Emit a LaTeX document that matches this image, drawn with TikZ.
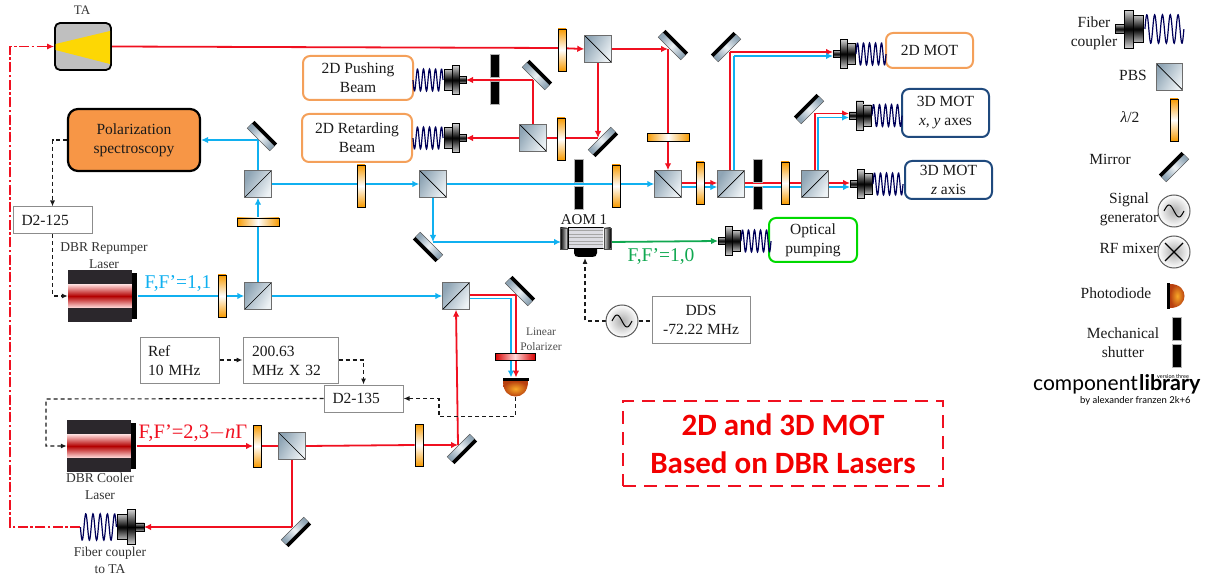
\documentclass[tikz,border=0pt]{standalone}
\usepackage{fontspec}
\setmainfont{Liberation Serif}
\newfontfamily\titlef{Carlito}
\newfontfamily\logof{Lato}
\usetikzlibrary{arrows.meta,calc,shapes.geometric}
\pgfdeclarelayer{beams}
\pgfsetlayers{beams,main}
\definecolor{beamred}{HTML}{F01020}
\definecolor{beamblue}{HTML}{10B0F0}
\definecolor{beamgreen}{HTML}{10A850}
\definecolor{orbox}{HTML}{F4A05A}
\definecolor{navybox}{HTML}{1F497D}
\definecolor{hwporange}{HTML}{F79A00}
\definecolor{glassdark}{HTML}{8FA5B5}
\definecolor{glasslight}{HTML}{EDF2F5}
\definecolor{ink}{HTML}{1A1A1A}
\definecolor{laserbody}{HTML}{2B272C}
\definecolor{domeout}{HTML}{B8400F}
\definecolor{domein}{HTML}{F8A828}
\tikzset{
  lowtext/.style={execute at begin node={\rule{0pt}{#1}}},
  pbsbase/.style={minimum size=26.5pt,inner sep=0pt,draw=gray!85!black,line width=.9pt,left color=glassdark,right color=glasslight,shading angle=60},
  pbsa/.style={pbsbase,path picture={\draw[black,line width=.7pt] (path picture bounding box.south west) -- (path picture bounding box.north east);}},
  pbsb/.style={pbsbase,path picture={\draw[black,line width=.7pt] (path picture bounding box.north west) -- (path picture bounding box.south east);}},
  hv/.style={minimum width=8pt,minimum height=42pt,inner sep=0pt,draw=black,line width=.9pt,top color=hwporange,bottom color=hwporange,middle color=white},
  hh/.style={minimum width=42pt,minimum height=8pt,inner sep=0pt,draw=black,line width=.9pt,left color=hwporange,right color=hwporange,middle color=white},
  shut/.style={minimum width=9pt,minimum height=23pt,inner sep=0pt,fill=black,draw=gray!60,line width=.3pt},
  gbox/.style={draw=gray!90,fill=white,line width=1pt,inner sep=0pt,font=\fontsize{15.5}{19}\selectfont,text=ink},
  rbox/.style={draw=orbox,fill=white,line width=2pt,rounded corners=7pt,inner sep=0pt,align=center,font=\fontsize{15.5}{19}\selectfont,text=ink},
  txt/.style={inner sep=0pt,align=center,font=\fontsize{15.5}{19}\selectfont,text=ink},
  smalltxt/.style={inner sep=0pt,align=center,font=\fontsize{13.5}{17}\selectfont,text=black!80},
  redb/.style={draw=beamred,line width=1.8pt},
  blueb/.style={draw=beamblue,line width=1.8pt},
  greenb/.style={draw=beamgreen,line width=1.8pt},
  tip/.style={-{Latex[length=7pt,width=6.5pt]}},
  ctrl/.style={draw=ink,line width=1.1pt,dash pattern=on 4pt off 3pt,-{Latex[length=6pt,width=5pt]}},
  ctrlplain/.style={draw=ink,line width=1.1pt,dash pattern=on 4pt off 3pt},
  sigc/.style={circle,minimum size=32pt,inner sep=0pt,draw=black!65,line width=1pt,inner color=gray!65,outer color=white},
}
\newcommand\mirrorel[4]{%
  \begin{scope}[shift={(#2,#3)},rotate=#4]
    \node[transform shape,minimum width=32pt,minimum height=7pt,inner sep=0pt,draw=gray!70!black,line width=.5pt,left color=glassdark,right color=glassdark,middle color=glasslight,shading angle=\the\numexpr90+#4\relax] (#1) at (0,1.5) {};
    \node[transform shape,minimum width=32pt,minimum height=3.5pt,inner sep=0pt,fill=black] (#1b) at (0,-3.6) {};
  \end{scope}}
\newcommand\fiberel[5]{%
  \coordinate (#1) at (#2,#3);
  \begin{scope}[shift={(#2,#3)},xscale=#5*#4,yscale=#4]
    \fill[draw=black,line width=.3pt,top color=gray!60,bottom color=gray!60,middle color=black] (0,-3.5) rectangle (7,3.5);
    \fill[draw=black,line width=.3pt,top color=gray!35,bottom color=gray!35,middle color=black] (7,-14.5) rectangle (14,14.5);
    \fill[draw=black,line width=.3pt,top color=gray!50,bottom color=gray!50,middle color=black] (14,-10.5) rectangle (22,10.5);
    \draw[draw=blue!35!black,line width=1.2pt] plot[domain=0:5,samples=90] ({23+\x*6},{-11*sin(360*\x)});
    \coordinate (#1e) at (53,0);
  \end{scope}}
\newcommand\shutterel[3]{%
  \node[shut] (#1a) at (#2,#3-13.5) {};
  \node[shut] (#1b) at (#2,#3+13.5) {};}
\newcommand\laserel[4]{%
  \node[minimum width=64pt,minimum height=52pt,inner sep=0pt,fill=laserbody] (#1) at (#2,#3) {};
  \node[minimum width=64pt,minimum height=#4pt,inner sep=0pt,top color=red!15,bottom color=red!15,middle color=red!70!black] (#1band) at (#2,#3) {};
  \node[minimum width=5pt,minimum height=46pt,inner sep=0pt,fill=black,anchor=west] (#1out) at (#1.east) {};}
\newcommand\sinewave[1]{\begin{scope}[shift={(#1)}]\draw[black,line width=1pt] plot[smooth,domain=-10:10,samples=30] (\x,{6*sin(18*\x)});\end{scope}}
\begin{document}
\begin{tikzpicture}[x=1pt,y=-1pt]
\useasboundingbox (0,0) rectangle (1210,577);
% ---------- TA ----------
\node[minimum width=56pt,minimum height=47pt,inner sep=0pt,rounded corners=5pt,draw=black,line width=1.8pt,fill=gray!50] (ta) at (83,46.5) {};
\fill[fill=yellow!75!orange] (55.5,44) -- (110,31) -- (110,64) -- (55.5,50) -- cycle;
\node[inner sep=0pt,font=\fontsize{13}{15}\selectfont,text=black!80] (talabel) at (82,10) {TA};
% ---------- boxes ----------
\node[rbox,lowtext=12pt,minimum width=110pt,minimum height=44pt] (push) at (358,78) {2D Pushing\\Beam};
\node[rbox,lowtext=12pt,minimum width=110pt,minimum height=48pt] (retard) at (357,138) {2D Retarding\\Beam};
\node[rbox,minimum width=87pt,minimum height=35pt] (mot2d) at (929.5,50.5) {2D MOT};
\node[rbox,lowtext=14pt,draw=navybox,minimum width=87pt,minimum height=48pt] (motxy) at (945.5,113) {3D MOT\\\textit{x, y} axes};
\node[rbox,draw=navybox,minimum width=87pt,minimum height=38pt] (motz) at (948.5,180) {3D MOT\\\textit{z} axis};
\node[rbox,lowtext=13.5pt,draw=green!85!black,minimum width=88pt,minimum height=44pt] (oppump) at (813,240) {Optical\\pumping};
\node[rbox,lowtext=16pt,draw=black,fill={rgb,255:red,247;green,150;blue,70},line width=2.2pt,rounded corners=10pt,minimum width=132pt,minimum height=62pt] (polar) at (134,140) {Polarization\\spectroscopy};
\node[gbox,minimum width=79pt,minimum height=27pt,text width=62pt,align=left] (d125) at (52.5,220.5) {D2-125};
\node[gbox,minimum width=79pt,minimum height=27pt,text width=62pt,align=left] (d135) at (363.5,398.5) {D2-135};
\node[gbox,lowtext=12.5pt,minimum width=79pt,minimum height=46pt,text width=63pt,align=left] (ref) at (179.5,360) {Ref\\10 MHz};
\node[gbox,lowtext=12.5pt,minimum width=95pt,minimum height=46pt,text width=77pt,align=left] (mult) at (290.5,360) {200.63\\MHz X 32};
\node[gbox,lowtext=15pt,minimum width=98pt,minimum height=46pt,align=center] (dds) at (701,320) {DDS\\-72.22 MHz};
\node[draw=beamred,line width=1.8pt,dash pattern=on 13pt off 8pt,minimum width=320pt,minimum height=85pt,inner sep=0pt,align=center,text=red!95!black,font=\titlef\bfseries\fontsize{31}{38}\selectfont] (title) at (783,443.5) {2D and 3D MOT\\Based on DBR Lasers};
% ---------- lasers ----------
\laserel{las1}{100}{296}{23}
\laserel{las2}{99}{446}{23}
\node[smalltxt] (las1lab) at (104,255.5) {DBR Repumper\\Laser};
\node[smalltxt] (las2lab) at (100,486.5) {DBR Cooler\\Laser};
\node[smalltxt] (fcalab) at (110,560.5) {Fiber coupler\\to TA};
\node[inner sep=0pt,text=beamblue,font=\fontsize{19.5}{22}\selectfont] (ff11) at (178,284) {F,F’=1,1};
\node[inner sep=0pt,text=beamred,font=\fontsize{20.5}{22}\selectfont] (ff23) at (193,433) {F,F’=2,3$-$\textit{n}Γ};
\node[inner sep=0pt,text=beamgreen,font=\fontsize{19.5}{22}\selectfont] (ff10) at (661,257) {F,F’=1,0};
% ---------- PBS ----------
\node[pbsb] (p1) at (598,49) {};
\node[pbsb] (p2) at (533,138) {};
\node[pbsa] (p3) at (258,184) {};
\node[pbsa] (p4) at (258,296) {};
\node[pbsb] (p5) at (433,184) {};
\node[pbsb] (p6) at (668,184) {};
\node[pbsa] (p7) at (731,184) {};
\node[pbsa] (p8) at (815,184) {};
\node[pbsa] (p9) at (456,296) {};
\node[pbsb] (p10) at (292,446) {};
% ---------- half-wave plates ----------
\node[hv] (h1) at (562,50) {};
\node[hv] (h2) at (561,139) {};
\node[hh] (h3) at (668,137.5) {};
\node[hh] (h4) at (258,222) {};
\node[hv] (h5) at (361,186) {};
\node[hv] (h6) at (616,186) {};
\node[hv] (h7) at (700,183) {};
\node[hv] (h8) at (785,183) {};
\node[hv] (h9) at (222,296) {};
\node[hv] (h10) at (257.5,446) {};
\node[hv] (h11) at (419,445) {};
% ---------- mirrors ----------
\mirrorel{m1}{673}{45}{-45}
\mirrorel{m2}{603}{142}{-135}
\mirrorel{m3}{537}{75}{-45}
\mirrorel{m4}{262}{136}{-45}
\mirrorel{m5}{428}{247}{135}
\mirrorel{m6}{726}{47}{45}
\mirrorel{m7}{809}{109}{45}
\mirrorel{m8}{520}{291}{-45}
\mirrorel{m9}{462}{449}{-135}
\mirrorel{m10}{296}{532}{-135}
\coordinate (hm1) at (668,49);
\coordinate (hm2) at (598,138);
\coordinate (hm3) at (533,80);
\coordinate (hm4) at (258,140);
\coordinate (hm5) at (433,242);
\coordinate (hm6r) at (730,52);
\coordinate (hm6b) at (734,56);
\coordinate (hm7r) at (815,113.5);
\coordinate (hm7b) at (818,117.5);
\coordinate (hm8r) at (516,295);
\coordinate (hm8b) at (511,298.5);
\coordinate (hm9) at (458,445);
\coordinate (hm10) at (292,527);
% ---------- shutters ----------
\shutterel{s1}{494.5}{79}
\shutterel{s2}{578.5}{184}
\shutterel{s3}{758}{184}
% ---------- fibres ----------
\fiberel{fpush}{466}{80}{1}{-1}
\fiberel{fret}{466}{138}{1}{-1}
\fiberel{f2d}{833}{54}{1}{1}
\fiberel{fxy}{849}{115.5}{1}{1}
\fiberel{fz}{850}{184}{1}{1}
\fiberel{fop}{718}{241}{1}{1}
\fiberel{fta}{144}{527}{1.2}{-1}
% ---------- AOM ----------
\node[minimum width=35pt,minimum height=21pt,inner sep=0pt,draw=black,line width=1pt,path picture={
  \foreach \k in {-7,-3.5,0,3.5,7}{\fill[gray!70] ([yshift=\k pt,xshift=-18pt]path picture bounding box.center) rectangle ++(36pt,1pt);}
  },top color=blue!10!gray!25,bottom color=blue!10!gray!25] (aom) at (585.5,238.5) {};
\node[minimum width=7pt,minimum height=21pt,inner sep=0pt,left color=black,right color=gray!20,draw=black!70,line width=.3pt,anchor=east] (aoml) at (aom.west) {};
\node[minimum width=7pt,minimum height=21pt,inner sep=0pt,left color=gray!20,right color=black,draw=black!70,line width=.3pt,anchor=west] (aomr) at (aom.east) {};
\fill[black] (574,249) -- (574,253) .. controls (574,256) and (576,257) .. (579,257) -- (592,257) .. controls (595,257) and (597,256) .. (597,253) -- (597,249) -- cycle;
\node[txt,font=\fontsize{15}{17}\selectfont] (aomlab) at (584,220) {AOM 1};
\coordinate (aomw) at (561,242);
\coordinate (aome) at (609,242);
\coordinate (aoms) at (585,258);
% ---------- sig gen / DDS ----------
\node[sigc] (sg) at (622,321) {};
\sinewave{sg.center}
% ---------- polarizer and photodiode ----------
\node[minimum width=40pt,minimum height=7pt,inner sep=0pt,draw=black,line width=.8pt,left color=red!85!black,right color=red!85!black,middle color=red!15] (pol) at (515,356.5) {};
\node[inner sep=0pt,align=center,font=\fontsize{11.5}{14.5}\selectfont,text=black!70] (pollab) at (541,339) {Linear\\Polarizer};
\path[shading=radial,inner color=domein,outer color=domeout] (503,381) .. controls (503,392) and (509,396.5) .. (515.5,396.5) .. controls (522,396.5) and (528,392) .. (528,381) -- cycle;
\node[minimum width=26pt,minimum height=3.5pt,inner sep=0pt,fill=black] (pd) at (515.5,379.5) {};
\coordinate (pdb) at (515.5,397);
\coordinate (c1) at (515.5,416.5);
\coordinate (c2) at (439,416.5);
\coordinate (c46) at (46,399);
\coordinate (c10) at (10,46.5);
% ---------- legend ----------
\node[txt,align=center] (lfib) at (1094,33) {Fiber\\coupler};
\fiberel{lf}{1115}{29}{1.3}{1}
\node[txt] (lpbs) at (1133,75) {PBS};
\node[pbsb] (lp) at (1169.5,77) {};
\node[txt] (lhw) at (1130,117) {\textit{λ}/2};
\node[hv] (lh) at (1174,120) {};
\node[txt] (lmir) at (1110,159) {Mirror};
\mirrorel{lm}{1174}{167}{45}
\node[txt] (lsig) at (1129,209) {Signal\\generator};
\node[sigc] (ls) at (1174,211) {};
\sinewave{ls.center}
\node[txt] (lmix) at (1129,248) {RF mixer};
\node[sigc] (lx) at (1174,252) {};
\draw[black,line width=1.1pt] ([shift={(-9pt,-9pt)}]lx.center) -- ([shift={(9pt,9pt)}]lx.center) ([shift={(-9pt,9pt)}]lx.center) -- ([shift={(9pt,-9pt)}]lx.center);
\node[txt] (lpd) at (1116,293) {Photodiode};
\path[shading=radial,inner color=domein,outer color=domeout] (1170,284) .. controls (1180,284) and (1184.5,290) .. (1184.5,296) .. controls (1184.5,302) and (1180,308) .. (1170,308) -- cycle;
\node[minimum width=3.5pt,minimum height=26pt,inner sep=0pt,fill=black] (lpdb) at (1168.5,296) {};
\node[txt] (lsh) at (1123,342.5) {Mechanical\\shutter};
\shutterel{ls}{1176.5}{342.5}
\node[inner sep=0pt,anchor=base west,font=\logof\fontsize{21}{21}\selectfont] (logoa) at (1033,390) {component};
\node[inner sep=0pt,anchor=base west,font=\logof\bfseries\fontsize{21.5}{21}\selectfont] (logob) at (1139,390) {library};
\node[inner sep=0pt,anchor=base west,font=\logof\fontsize{5.5}{7}\selectfont] (logoc) at (1157,378) {version three};
\node[inner sep=0pt,anchor=base west,font=\logof\fontsize{9.5}{11}\selectfont] (logod) at (1080,403) {by alexander franzen 2k+6};
% ---------- beams ----------
\begin{pgfonlayer}{beams}
\coordinate (hb1) at (558,48);
\draw[redb] (ta.east) -- (hb1);
\draw[redb,tip] (hb1) -- (p1.west);
\draw[redb,tip] (p1.east) -- (hm1);
\draw[redb,tip] (hm1) -- (p6.north);
\draw[redb,tip] (p1.south) -- (hm2);
\draw[redb] (hm2) -- (p2.east);
\draw[redb,tip] (p2.west) -- (fret);
\draw[redb] (p2.north) -- (hm3);
\draw[redb,tip] (hm3) -- (fpush);
\draw[redb,tip] ([yshift=1pt]p6.east) -- ([yshift=1pt]p7.west);
\draw[blueb,tip] ([yshift=-3pt]p6.east) -- ([yshift=-3pt]p7.west);
\draw[redb] ([yshift=1pt]p7.east) -- ([yshift=1pt]p8.west);
\draw[blueb] ([yshift=-3pt]p7.east) -- ([yshift=-3pt]p8.west);
\draw[redb,tip] ([yshift=1pt]p8.east) -- ([yshift=1pt]fz);
\draw[blueb,tip] ([yshift=-3pt]p8.east) -- ([yshift=-3pt]fz);
\draw[redb] ([xshift=-1pt]p7.north) -- (hm6r);
\draw[blueb] ([xshift=3pt]p7.north) -- (hm6b);
\draw[redb,tip] (hm6r) -- (hm6r -| f2d);
\draw[blueb,tip] (hm6b) -- (hm6b -| f2d);
\draw[redb] (p8.north) -- (hm7r);
\draw[blueb] ([xshift=3pt]p8.north) -- (hm7b);
\draw[redb,tip] (hm7r) -- (hm7r -| fxy);
\draw[blueb,tip] (hm7b) -- (hm7b -| fxy);
\draw[blueb,tip] (las1out.east) -- (p4.west);
\draw[blueb,tip] (p4.north) -- (p3.south);
\draw[blueb] (p3.north) -- (hm4);
\draw[blueb,tip] (hm4) -- (hm4 -| polar.east);
\draw[blueb,tip] (p3.east) -- (p5.west);
\draw[blueb,tip] (p5.east) -- (p6.west);
\draw[blueb,tip] (p5.south) -- (hm5);
\draw[blueb,tip] (hm5) -- (aomw);
\draw[blueb,tip] (p4.east) -- (p9.west);
\draw[blueb] (p9.east |- hm8b) -- (hm8b);
\draw[blueb,tip] (hm8b) -- (hm8b |- pd.north);
\draw[greenb,tip] (aome) -- (fop);
\draw[redb,tip] (las2out.east) -- (h10.west);
\draw[redb] (h10.east) -- (p10.west);
\draw[redb] (p10.east) -- (h11.west);
\draw[redb,tip] (h11.east) -- (hm9);
\draw[redb,tip] (hm9) -- (p9.south);
\draw[redb] (p9.east |- hm8r) -- (hm8r);
\draw[redb,tip] (hm8r) -- (hm8r |- pd.north);
\draw[redb] (p10.south) -- (hm10);
\draw[redb,tip] (hm10) -- (fta);
\draw[draw=beamred,line width=1.1pt,dash pattern=on 10pt off 2.5pt on 2.5pt off 2.5pt,-{Latex[length=7pt,width=6pt]}] (ftae) -| (c10) -- (ta.west);
\draw[ctrl] (polar.west) -| (d125.north);
\draw[ctrl] (d125.south) |- (las1.west);
\draw[ctrl] (ref.east) -- (mult.west);
\draw[ctrl] (mult.east) -| (d135.north);
\draw[ctrl] (pdb) -- (c1) -- (c2) |- (d135.east);
\draw[ctrl] (d135.west) -- (c46) |- (las2.west);
\draw[ctrl] (sg.west) -| (aoms);
\draw[ctrlplain] (sg.east) -- (sg.east -| dds.west);
\end{pgfonlayer}
\end{tikzpicture}
\end{document}
